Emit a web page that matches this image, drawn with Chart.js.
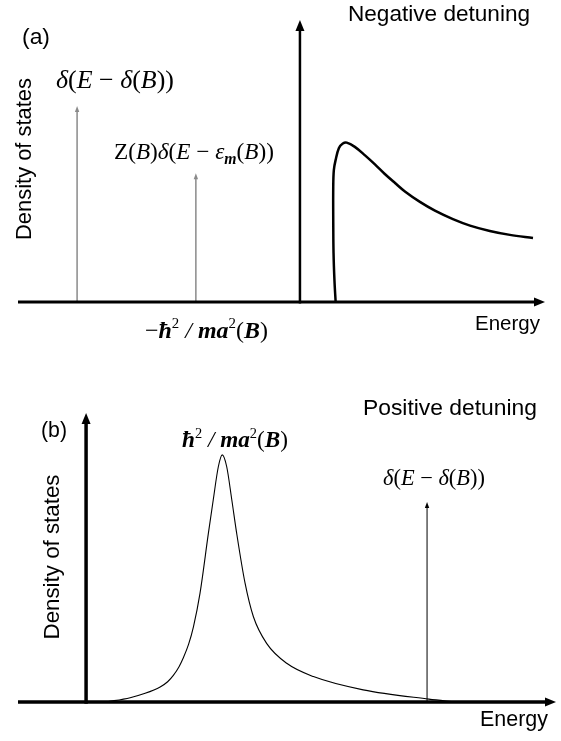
<!DOCTYPE html>
<html><head><meta charset="utf-8">
<script src="https://cdn.jsdelivr.net/npm/chart.js@4"></script>
<style>
html,body{margin:0;padding:0;background:#fff;}
#wrap{position:relative;width:561px;height:741px;overflow:hidden;}
.panel{position:absolute;left:0;width:561px;}
canvas{display:block;}
</style></head><body>
<div id="wrap">
<div class="panel" style="top:0;height:370px"><canvas id="ca" width="561" height="370"></canvas></div>
<div class="panel" style="top:370px;height:371px"><canvas id="cb" width="561" height="371"></canvas></div>
</div>
<script>
// ---- Panel (a): negative detuning (energy and density of states in arbitrary units)
const curveA_E = [1.19, 1.15, 1.12, 1.11, 1.11, 1.13, 1.19, 1.30, 1.43, 1.56, 1.83, 2.17, 2.50, 2.83, 3.17, 3.50, 4.00, 4.50, 5.10, 5.67, 6.33, 7.00, 7.77];
const curveA_D = [0.00, 0.78, 1.74, 2.91, 4.08, 4.68, 5.04, 5.46, 5.62, 5.65, 5.50, 5.20, 4.88, 4.54, 4.22, 3.92, 3.55, 3.24, 2.94, 2.71, 2.52, 2.38, 2.27];
const spikesA_E = [-7.43, -3.47];
const spikesA_D = [6.95, 4.57];

// ---- Panel (b): positive detuning
const curveB_E = [0.67, 1.47, 1.97, 2.47, 2.72, 2.91, 3.10, 3.24, 3.42, 3.58, 3.80, 4.08, 4.24, 4.41, 4.54, 4.69, 4.86, 5.02, 5.30, 5.58, 6.02, 6.69, 7.58, 9.24, 11.43, 12.30];
const curveB_D = [0.00, 0.15, 0.30, 0.52, 0.70, 0.92, 1.22, 1.52, 2.00, 2.60, 3.77, 5.85, 6.99, 8.14, 8.55, 8.14, 6.99, 5.85, 4.12, 2.95, 2.03, 1.34, 0.88, 0.42, 0.10, 0.00];
const spikesB_E = [11.37];
const spikesB_D = [6.92];

// ---- text
const yTitle = 'Density of states';
const xTitle = 'Energy';
const titleA = 'Negative detuning';
const titleB = 'Positive detuning';
const tagA = '(a)';
const tagB = '(b)';

const SERIF = '"Liberation Serif", "Times New Roman", serif';
const SANS = '"Liberation Sans", Arial, Helvetica, sans-serif';

function segFont(style, s) {
  switch (style) {
    case 'i': return {f: 'italic ' + s + 'px ' + SERIF, dy: 0};
    case 'bi': return {f: 'italic bold ' + s + 'px ' + SERIF, dy: 0};
    case 'sup': return {f: (s * 0.62).toFixed(2) + 'px ' + SERIF, dy: -0.40 * s};
    case 'sub': return {f: 'italic bold ' + (s * 0.68).toFixed(2) + 'px ' + SERIF, dy: 0.22 * s};
    default: return {f: s + 'px ' + SERIF, dy: 0};
  }
}
function richWidth(ctx, segs, s) {
  let w = 0;
  for (const [t, st] of segs) { ctx.font = segFont(st, s).f; w += ctx.measureText(t).width; }
  return w;
}
function drawRich(ctx, segs, left, base, width) {
  const s = 20 * width / richWidth(ctx, segs, 20);
  let x = left;
  ctx.fillStyle = '#000';
  ctx.textBaseline = 'alphabetic';
  ctx.textAlign = 'left';
  for (const [t, st] of segs) {
    const sf = segFont(st, s);
    ctx.font = sf.f;
    ctx.fillText(t, x, base + sf.dy);
    x += ctx.measureText(t).width;
  }
}
function drawFit(ctx, text, left, base, width) {
  ctx.font = '20px ' + SANS;
  const s = 20 * width / ctx.measureText(text).width;
  ctx.font = s.toFixed(2) + 'px ' + SANS;
  ctx.fillStyle = '#000';
  ctx.textAlign = 'left';
  ctx.textBaseline = 'alphabetic';
  ctx.fillText(text, left, base);
}
function drawRot(ctx, text, cx, cy, length) {
  ctx.save();
  ctx.font = '20px ' + SANS;
  const s = 20 * length / ctx.measureText(text).width;
  ctx.translate(cx, cy);
  ctx.rotate(-Math.PI / 2);
  ctx.font = s.toFixed(2) + 'px ' + SANS;
  ctx.fillStyle = '#000';
  ctx.textAlign = 'center';
  ctx.textBaseline = 'middle';
  ctx.fillText(text, 0, 0);
  ctx.restore();
}
function arrowUp(ctx, x, y, len, half, color) {
  ctx.beginPath();
  ctx.moveTo(x, y);
  ctx.lineTo(x - half, y + len);
  ctx.lineTo(x + half, y + len);
  ctx.closePath();
  ctx.fillStyle = color;
  ctx.fill();
}
function arrowRight(ctx, x, y, len, half, color) {
  ctx.beginPath();
  ctx.moveTo(x, y);
  ctx.lineTo(x - len, y - half);
  ctx.lineTo(x - len, y + half);
  ctx.closePath();
  ctx.fillStyle = color;
  ctx.fill();
}

const deco = {
  id: 'deco',
  afterDatasetsDraw(chart, args, o) {
    const ctx = chart.ctx;
    const sx = chart.scales.x, sy = chart.scales.y;
    const x0 = sx.getPixelForValue(0), y0 = sy.getPixelForValue(0);
    const xL = sx.getPixelForValue(sx.min), xR = sx.getPixelForValue(sx.max);
    const yT = sy.getPixelForValue(sy.max);
    ctx.save();
    o.spikeE.forEach((e, i) => {
      arrowUp(ctx, sx.getPixelForValue(e), sy.getPixelForValue(o.spikeD[i]), 6, 2.2, o.spikeColor);
    });
    ctx.strokeStyle = '#000';
    ctx.lineCap = 'butt';
    ctx.lineWidth = o.hWidth;
    ctx.beginPath(); ctx.moveTo(xL, y0); ctx.lineTo(xR - 8, y0); ctx.stroke();
    arrowRight(ctx, xR, y0, 11, 4.5, '#000');
    ctx.lineWidth = o.vWidth;
    ctx.beginPath(); ctx.moveTo(x0, y0 + o.hWidth / 2); ctx.lineTo(x0, yT + 8); ctx.stroke();
    arrowUp(ctx, x0, yT, 11, 4.5, '#000');
    o.texts(ctx);
    ctx.restore();
  }
};

function makeChart(id, cE, cD, sE, sD, cfg) {
  const curve = {
    data: cE.map((e, i) => ({x: e, y: cD[i]})),
    showLine: true, borderColor: '#000', borderWidth: cfg.curveWidth,
    pointRadius: 0, clip: false, fill: false, borderJoinStyle: 'round'
  };
  if (cfg.monotone) curve.cubicInterpolationMode = 'monotone';
  else curve.tension = cfg.tension;
  const datasets = [curve];
  sE.forEach((e, i) => datasets.push({
    data: [{x: e, y: 0}, {x: e, y: sD[i] - 0.15}],
    showLine: true, borderColor: cfg.spikeColor, borderWidth: cfg.spikeWidth,
    pointRadius: 0, clip: false, fill: false
  }));
  return new Chart(document.getElementById(id), {
    type: 'scatter',
    data: {datasets},
    options: {
      responsive: false, animation: false, devicePixelRatio: 1, events: [],
      layout: {padding: cfg.padding},
      scales: {
        x: {type: 'linear', min: cfg.xMin, max: cfg.xMax, display: false},
        y: {type: 'linear', min: 0, max: 10, display: false}
      },
      plugins: {
        legend: {display: false}, tooltip: {enabled: false},
        deco: {spikeE: sE, spikeD: sD, spikeColor: cfg.spikeColor, hWidth: cfg.hWidth, vWidth: cfg.vWidth, texts: cfg.texts}
      }
    },
    plugins: [deco]
  });
}

const labDeltaB = [['δ','i'],['(','r'],['E','i'],[' − ','r'],['δ','i'],['(','r'],['B','i'],['))','r']];
const labZ = [['Z','r'],['(','r'],['B','i'],[')','r'],['δ','i'],['(','r'],['E','i'],[' − ','r'],['ε','i'],['m','sub'],['(','r'],['B','i'],['))','r']];
const labBoundA = [['−','r'],['ħ','bi'],['2','sup'],[' / ','i'],['ma','bi'],['2','sup'],['(','r'],['B','bi'],[')','r']];
const labBoundB = [['ħ','bi'],['2','sup'],[' / ','i'],['ma','bi'],['2','sup'],['(','r'],['B','bi'],[')','r']];

makeChart('ca', curveA_E, curveA_D, spikesA_E, spikesA_D, {
  xMin: -9.4, xMax: 8.17, padding: {left: 18, right: 16, top: 20, bottom: 68},
  curveWidth: 2.5, tension: 0.35, spikeColor: '#8a8a8a', spikeWidth: 1.5, hWidth: 3, vWidth: 2.5,
  texts(ctx) {
    drawFit(ctx, titleA, 348, 21, 182);
    drawFit(ctx, tagA, 22, 44, 28);
    drawRot(ctx, yTitle, 25, 159, 162);
    drawFit(ctx, xTitle, 475, 330, 65);
    drawRich(ctx, labDeltaB, 56, 88, 118);
    drawRich(ctx, labZ, 114, 159, 160);
    drawRich(ctx, labBoundA, 145, 338, 123);
  }
});

makeChart('cb', curveB_E, curveB_D, spikesB_E, spikesB_D, {
  xMin: -2.27, xMax: 15.67, padding: {left: 18, right: 5, top: 43, bottom: 39},
  curveWidth: 1.1, monotone: true, spikeColor: '#000', spikeWidth: 1, hWidth: 3.5, vWidth: 3.5,
  texts(ctx) {
    drawFit(ctx, titleB, 363, 45, 174);
    drawFit(ctx, tagB, 41, 67, 26);
    drawRot(ctx, yTitle, 53, 187, 165);
    drawFit(ctx, xTitle, 480, 356, 68);
    drawRich(ctx, labBoundB, 182, 77, 106);
    drawRich(ctx, labDeltaB, 383, 115, 102);
  }
});
</script>
</body></html>
